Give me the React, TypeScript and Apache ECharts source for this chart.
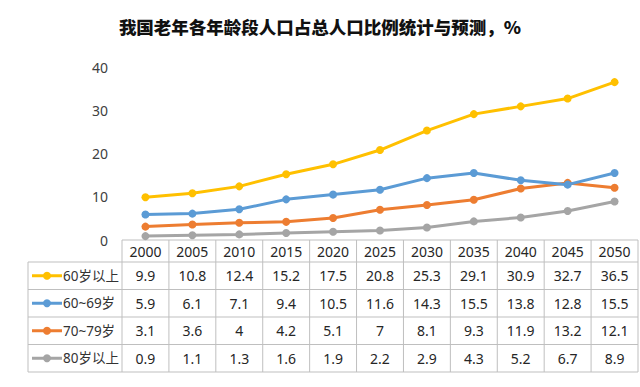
import React, { useEffect, useRef } from "react";
import * as echarts from "echarts";

const years = ["2000", "2005", "2010", "2015", "2020", "2025", "2030", "2035", "2040", "2045", "2050"];
const seriesNames = ["60岁以上", "60~69岁", "70~79岁", "80岁以上"];
const s60plus = [9.9, 10.8, 12.4, 15.2, 17.5, 20.8, 25.3, 29.1, 30.9, 32.7, 36.5];
const s60to69 = [5.9, 6.1, 7.1, 9.4, 10.5, 11.6, 14.3, 15.5, 13.8, 12.8, 15.5];
const s70to79 = [3.1, 3.6, 4, 4.2, 5.1, 7, 8.1, 9.3, 11.9, 13.2, 12.1];
const s80plus = [0.9, 1.1, 1.3, 1.6, 1.9, 2.2, 2.9, 4.3, 5.2, 6.7, 8.9];
const colors = ["#FFC000", "#5B9BD5", "#ED7D31", "#A5A5A5"];
const yTicks = [0, 10, 20, 30, 40];

const W = 640;
const H = 387;
const GRID_LEFT = 122;
const GRID_RIGHT = 2;
const GRID_TOP = 67;
const GRID_BOTTOM_Y = 240;
const HEADER_H = 22;
const ROW_H = 27.5;
const TABLE_LEFT = 28;
const LINE_COLOR = "#BFBFBF";
const FONT = "'Noto Sans', 'Noto Sans CJK SC', sans-serif";

export default function App() {
  const ref = useRef<HTMLDivElement>(null);
  useEffect(() => {
    if (!ref.current) return;
    const chart = echarts.init(ref.current, null, { renderer: "svg" });
    const data = [s60plus, s60to69, s70to79, s80plus];
    const plotW = W - GRID_LEFT - GRID_RIGHT;
    const colW = plotW / years.length;
    const tableBottom = GRID_BOTTOM_Y + HEADER_H + ROW_H * data.length;

    const graphics: any[] = [];
    graphics.push({
      type: "line",
      shape: { x1: GRID_LEFT, y1: GRID_BOTTOM_Y, x2: W - GRID_RIGHT, y2: GRID_BOTTOM_Y },
      style: { stroke: LINE_COLOR, lineWidth: 1 },
    });
    for (let r = 0; r <= data.length; r++) {
      const y = GRID_BOTTOM_Y + HEADER_H + r * ROW_H;
      graphics.push({
        type: "line",
        shape: { x1: TABLE_LEFT, y1: y, x2: W - GRID_RIGHT, y2: y },
        style: { stroke: LINE_COLOR, lineWidth: 1 },
      });
    }
    graphics.push({
      type: "line",
      shape: { x1: TABLE_LEFT, y1: GRID_BOTTOM_Y + HEADER_H, x2: TABLE_LEFT, y2: tableBottom },
      style: { stroke: LINE_COLOR, lineWidth: 1 },
    });
    for (let c = 0; c <= years.length; c++) {
      const x = GRID_LEFT + c * colW;
      graphics.push({
        type: "line",
        shape: { x1: x, y1: GRID_BOTTOM_Y, x2: x, y2: tableBottom },
        style: { stroke: LINE_COLOR, lineWidth: 1 },
      });
    }
    seriesNames.forEach((name, i) => {
      const cy = GRID_BOTTOM_Y + HEADER_H + (i + 0.5) * ROW_H;
      graphics.push({
        type: "line",
        shape: { x1: 32, y1: cy, x2: 62, y2: cy },
        style: { stroke: colors[i], lineWidth: 3 },
      });
      graphics.push({
        type: "circle",
        shape: { cx: 47, cy, r: 4 },
        style: { fill: colors[i] },
      });
      graphics.push({
        type: "text",
        x: 63,
        y: cy,
        style: {
          text: name,
          fill: "#333333",
          font: `13.5px ${FONT}`,
          textAlign: "left",
          textVerticalAlign: "middle",
        },
      });
    });

    const xAxes: any[] = [];
    xAxes.push({
      type: "category",
      data: years,
      boundaryGap: true,
      position: "bottom",
      offset: HEADER_H / 2,
      axisLine: { show: false },
      axisTick: { show: false },
      axisLabel: {
        margin: 0,
        verticalAlign: "middle",
        color: "#262626",
        fontSize: 14,
        fontFamily: FONT,
        interval: 0,
      },
    });
    data.forEach((arr, i) => {
      xAxes.push({
        type: "category",
        data: years,
        boundaryGap: true,
        position: "bottom",
        offset: HEADER_H + (i + 0.5) * ROW_H,
        axisLine: { show: false },
        axisTick: { show: false },
        axisLabel: {
          margin: 0,
          verticalAlign: "middle",
          color: "#262626",
          fontSize: 14,
          fontFamily: FONT,
          interval: 0,
          formatter: (_v: string, idx: number) => String(arr[idx]),
        },
      });
    });

    chart.setOption({
      animation: false,
      title: {
        text: "我国老年各年龄段人口占总人口比例统计与预测，%",
        left: "center",
        top: 13,
        textStyle: {
          fontSize: 17.5,
          fontWeight: 900,
          color: "#111111",
          fontFamily: "'Noto Sans CJK SC', sans-serif",
        },
      },
      grid: {
        left: GRID_LEFT,
        right: GRID_RIGHT,
        top: GRID_TOP,
        bottom: H - GRID_BOTTOM_Y,
        containLabel: false,
      },
      xAxis: xAxes,
      yAxis: {
        type: "value",
        min: 0,
        max: 40,
        interval: 10,
        axisLine: { show: false },
        axisTick: { show: false },
        splitLine: { show: false },
        axisLabel: {
          margin: 14,
          color: "#404040",
          fontSize: 14,
          fontFamily: FONT,
          formatter: (v: number) => (yTicks.includes(v) ? String(v) : ""),
        },
      },
      series: data.map((arr, i) => ({
        name: seriesNames[i],
        type: "line",
        xAxisIndex: 0,
        data: arr,
        symbol: "circle",
        symbolSize: 8,
        lineStyle: { color: colors[i], width: 3 },
        itemStyle: { color: colors[i] },
        z: 10 - i,
      })),
      graphic: graphics,
    });
    return () => chart.dispose();
  }, []);
  return <div ref={ref} style={{ width: W, height: H, position: "absolute", left: 0, top: 0 }} />;
}
